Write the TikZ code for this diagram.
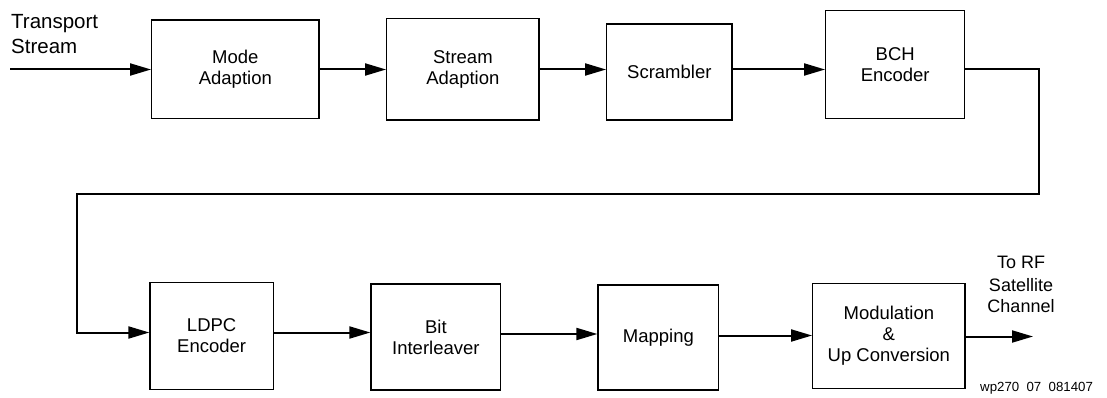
\documentclass[tikz,border=0pt]{standalone}
\usepackage{fontspec}
\setmainfont{Liberation Sans}
\usetikzlibrary{arrows.meta}
\begin{document}
\begin{tikzpicture}[x=1pt,y=-1pt,
  block/.style={draw, line width=1.3pt, inner sep=0pt, align=center,
    font=\fontsize{18.5}{21}\selectfont},
  label/.style={inner sep=0pt, font=\fontsize{20.5}{25}\selectfont},
  outlabel/.style={inner sep=0pt, anchor=base, font=\fontsize{18}{22}\selectfont},
  flow/.style={line width=2pt, -{Triangle[length=21pt,width=12pt]}},
  wire/.style={line width=2pt}]
\useasboundingbox[fill=white] (0,0) rectangle (1107,398);

% upper chain
\node[block, minimum width=167.3pt, minimum height=98.3pt]  (mode)   at (235.35,69.15) {Mode\\Adaption};
\node[block, minimum width=152.3pt, minimum height=101.7pt] (stream) at (462.85,69.15) {Stream\\Adaption};
\node[block, minimum width=125.3pt, minimum height=96pt]    (scram)  at (669.35,72)    {Scrambler};
\node[block, minimum width=139pt,   minimum height=107.6pt] (bch)    at (895.2,64.5)   {BCH\\Encoder};

% lower chain
\node[block, minimum width=123.3pt, minimum height=107pt] (ldpc) at (211.65,335.8) {LDPC\\Encoder};
\node[block, minimum width=129.7pt, minimum height=106pt] (bit)  at (435.85,337)   {Bit\\Interleaver};
\node[block, minimum width=120.7pt, minimum height=105pt] (map)  at (658.35,337.5) {Mapping};
\node[block, minimum width=152.3pt, minimum height=105pt] (mod)  at (888.85,335.8) {Modulation\\\&\\Up Conversion};

% labels
\node[label, anchor=base west] (ts1) at (11,28.3) {Transport};
\node[label, anchor=base west] (ts2) at (11,53.3) {Stream};
\node[outlabel] (rf1) at (1021,268.3) {To RF};
\node[outlabel] (rf2) at (1021,291.7) {Satellite};
\node[outlabel] (rf3) at (1021,312.7) {Channel};
\node[inner sep=0pt, anchor=base west, font=\fontsize{13.25}{15}\selectfont] (tag) at (980,391.7) {wp270\ \ 07\ \ 081407};

% rows and routing points
\coordinate (rowA) at (0,69.5);
\coordinate (in)   at (10,69.5);
\coordinate (c1)   at (1039,193.7);
\coordinate (c2)   at (77.3,193.7);
\coordinate (rowB) at (0,332.5);
\coordinate (rowC) at (0,334);
\coordinate (rowD) at (0,335.5);
\coordinate (rowE) at (0,336.5);
\coordinate (out)  at (1033,336.5);

% connectors
\draw[flow] (in) -- (mode.west |- rowA);
\draw[flow] (mode.east |- rowA) -- (stream.west |- rowA);
\draw[flow] (stream.east |- rowA) -- (scram.west |- rowA);
\draw[flow] (scram.east |- rowA) -- (bch.west |- rowA);
\draw[flow] (bch.east |- rowA) -| (c1) -- (c2) |- (ldpc.west |- rowB);
\draw[flow] (ldpc.east |- rowB) -- (bit.west |- rowB);
\draw[flow] (bit.east |- rowC) -- (map.west |- rowC);
\draw[flow] (map.east |- rowD) -- (mod.west |- rowD);
\draw[flow] (mod.east |- rowE) -- (out);
\end{tikzpicture}
\end{document}
